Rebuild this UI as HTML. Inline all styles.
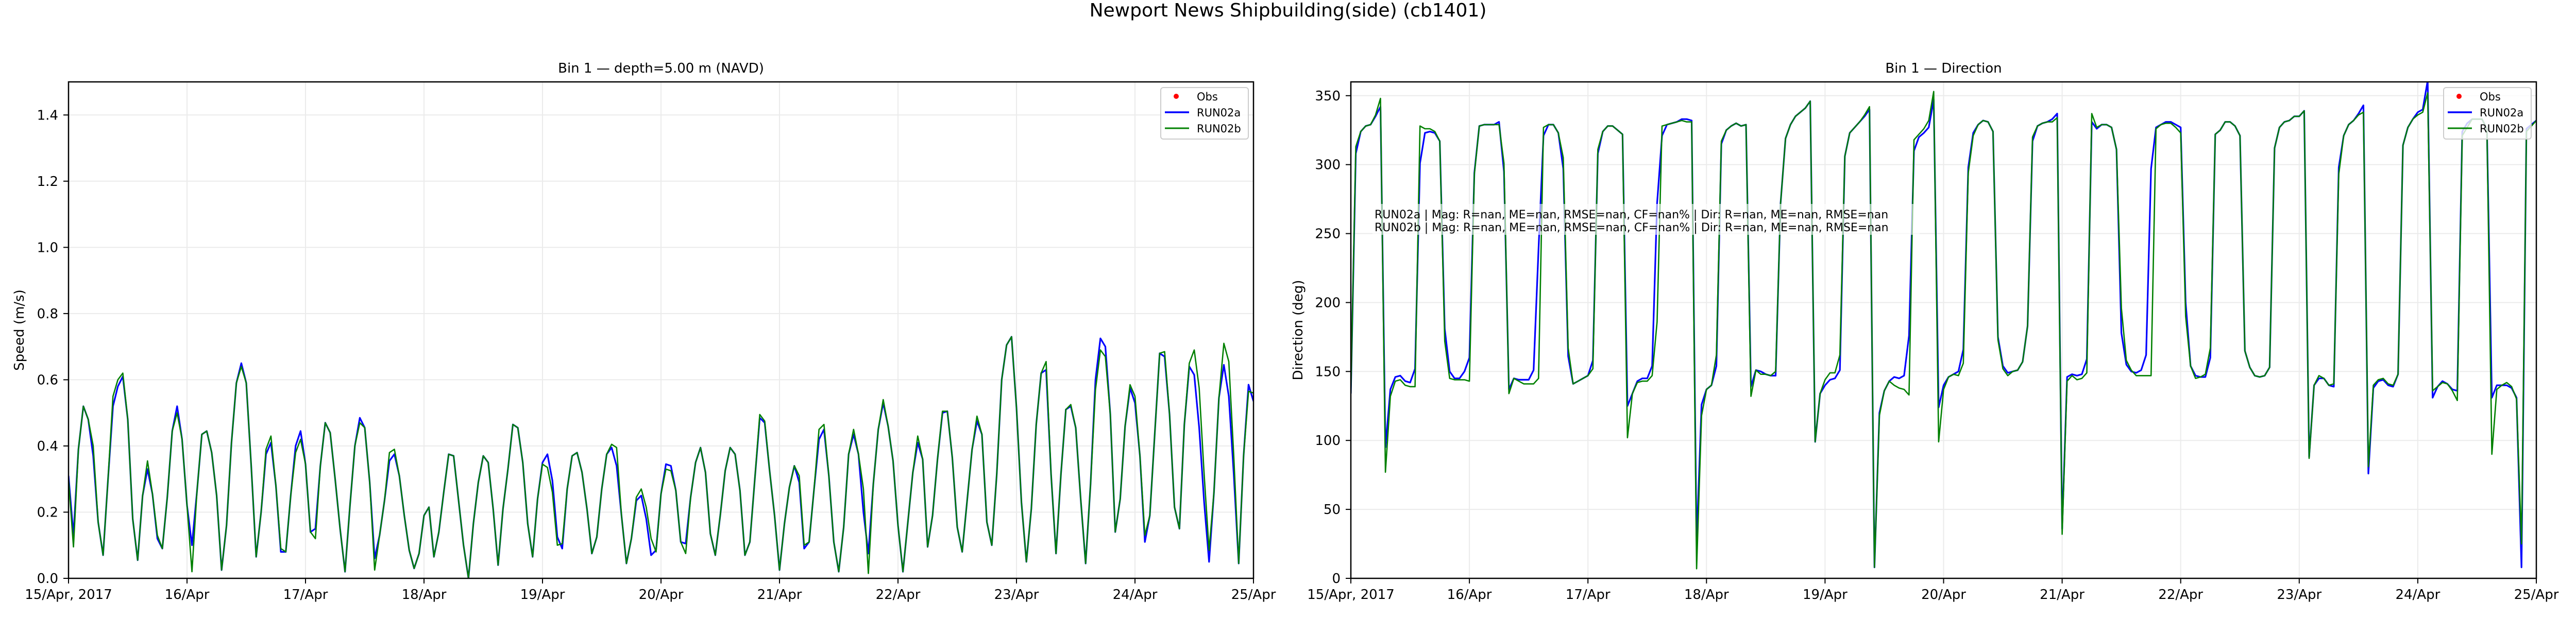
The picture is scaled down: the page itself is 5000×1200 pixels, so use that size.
<!DOCTYPE html>
<html><head><meta charset="utf-8"><style>
html,body{margin:0;padding:0;background:#fff;}
svg{display:block;font-family:"DejaVu Sans","Liberation Sans",sans-serif;}
</style></head><body>
<svg id="fig" width="5000" height="1200" viewBox="0 0 5000 1200" xmlns="http://www.w3.org/2000/svg">
<rect width="5000" height="1200" fill="#fff"/>
<text x="2500" y="32" font-size="36" text-anchor="middle">Newport News Shipbuilding(side) (cb1401)</text>
<g id="left"></g>
<g id="right"></g>
</svg>
<script>
const dayLabels = ["15/Apr, 2017","16/Apr","17/Apr","18/Apr","19/Apr","20/Apr","21/Apr","22/Apr","23/Apr","24/Apr","25/Apr"];
const speedTicks = [0.0,0.2,0.4,0.6,0.8,1.0,1.2,1.4];
const dirTicks = [0,50,100,150,200,250,300,350];
const speedA = [0.31,0.13,0.39,0.52,0.48,0.37,0.17,0.07,0.30,0.52,0.58,0.61,0.48,0.18,0.055,0.25,0.33,0.255,0.12,0.09,
0.245,0.445,0.52,0.42,0.22,0.10,0.26,0.435,0.445,0.38,0.25,0.025,0.16,0.41,0.59,0.65,0.59,0.34,0.065,0.20,
0.375,0.41,0.28,0.08,0.08,0.25,0.40,0.445,0.345,0.14,0.15,0.34,0.47,0.44,0.30,0.15,0.02,0.22,0.40,0.485,
0.455,0.29,0.06,0.13,0.235,0.355,0.375,0.31,0.19,0.085,0.03,0.075,0.19,0.215,0.065,0.14,0.26,0.375,0.37,0.235,
0.10,0.00,0.165,0.29,0.37,0.35,0.21,0.04,0.21,0.33,0.465,0.455,0.35,0.165,0.065,0.24,0.35,0.375,0.295,0.125,
0.09,0.27,0.37,0.38,0.32,0.21,0.075,0.125,0.27,0.375,0.395,0.34,0.19,0.045,0.12,0.235,0.25,0.18,0.07,0.085,
0.255,0.345,0.34,0.265,0.11,0.105,0.245,0.35,0.395,0.32,0.135,0.07,0.19,0.325,0.395,0.375,0.265,0.07,0.11,0.30,
0.485,0.47,0.325,0.19,0.025,0.165,0.275,0.34,0.29,0.09,0.11,0.27,0.42,0.45,0.31,0.11,0.02,0.155,0.375,0.435,
0.375,0.20,0.075,0.285,0.45,0.53,0.46,0.355,0.16,0.02,0.17,0.32,0.41,0.36,0.095,0.19,0.36,0.50,0.505,0.365,
0.155,0.08,0.235,0.39,0.475,0.435,0.17,0.10,0.315,0.60,0.705,0.73,0.515,0.23,0.05,0.21,0.465,0.62,0.63,0.315,
0.075,0.315,0.51,0.52,0.455,0.24,0.045,0.285,0.60,0.725,0.70,0.495,0.14,0.24,0.46,0.575,0.53,0.37,0.11,0.19,
0.435,0.68,0.67,0.495,0.215,0.15,0.465,0.64,0.615,0.455,0.23,0.05,0.26,0.545,0.645,0.55,0.315,0.045,0.37,0.585,0.535];
const speedB = [0.30,0.095,0.39,0.52,0.48,0.40,0.17,0.07,0.30,0.55,0.60,0.62,0.48,0.18,0.055,0.25,0.355,0.255,0.13,0.09,
0.245,0.445,0.50,0.42,0.22,0.02,0.26,0.435,0.445,0.38,0.25,0.025,0.16,0.41,0.59,0.64,0.59,0.34,0.065,0.20,
0.39,0.43,0.28,0.09,0.08,0.25,0.38,0.42,0.345,0.14,0.12,0.34,0.47,0.44,0.30,0.15,0.02,0.22,0.40,0.47,
0.455,0.29,0.025,0.13,0.235,0.38,0.39,0.31,0.19,0.085,0.03,0.075,0.19,0.215,0.065,0.14,0.26,0.375,0.37,0.235,
0.10,0.00,0.165,0.29,0.37,0.35,0.21,0.04,0.21,0.33,0.465,0.455,0.35,0.165,0.065,0.24,0.345,0.335,0.26,0.10,
0.105,0.27,0.37,0.38,0.32,0.21,0.075,0.125,0.27,0.375,0.405,0.395,0.19,0.045,0.12,0.245,0.27,0.215,0.12,0.08,
0.255,0.33,0.325,0.265,0.11,0.075,0.245,0.35,0.395,0.32,0.135,0.07,0.19,0.325,0.395,0.375,0.265,0.07,0.11,0.30,
0.495,0.475,0.325,0.19,0.025,0.165,0.275,0.34,0.31,0.10,0.11,0.27,0.45,0.465,0.31,0.11,0.02,0.155,0.375,0.45,
0.375,0.27,0.015,0.285,0.45,0.54,0.46,0.355,0.16,0.02,0.17,0.32,0.43,0.36,0.095,0.19,0.36,0.505,0.505,0.365,
0.155,0.08,0.235,0.39,0.49,0.435,0.17,0.10,0.315,0.60,0.705,0.73,0.515,0.23,0.05,0.21,0.465,0.62,0.655,0.315,
0.075,0.315,0.51,0.525,0.455,0.24,0.045,0.285,0.57,0.69,0.67,0.495,0.14,0.24,0.46,0.585,0.55,0.37,0.13,0.19,
0.435,0.68,0.685,0.495,0.215,0.15,0.465,0.65,0.69,0.575,0.315,0.085,0.26,0.545,0.71,0.655,0.37,0.045,0.37,0.565,0.56];
const dirA = [134,308,324,328,329,335,342,95,137,146,147,143,142,152,301,323,324,323,317,181,
150,145,145,150,160,294,328,329,329,329,331,295,137,145,144,144,144,151,239,321,
329,329,323,297,161,141,143,145,147,158,308,324,328,328,325,322,125,134,143,145,
145,154,272,321,329,330,331,333,333,332,25,126,137,140,154,315,325,328,330,328,
329,139,151,150,148,147,147,272,319,329,335,338,341,346,99,134,140,144,145,151,
306,323,327,331,335,340,8,120,136,143,146,145,147,176,310,320,323,327,347,124,
140,146,148,150,166,298,323,329,332,331,324,175,154,149,150,151,157,183,317,328,
330,331,333,337,36,146,148,147,148,159,331,326,329,329,327,311,178,155,150,149,
151,162,297,327,329,331,331,329,327,200,154,147,146,146,160,322,325,331,331,328,
321,165,153,147,146,147,153,312,327,331,332,335,335,339,88,140,145,145,140,139,
298,321,329,332,337,343,76,138,143,144,140,139,148,314,327,333,338,340,361,131,
139,143,141,137,136,324,330,333,333,333,326,131,140,140,140,138,131,8,326,329,332];
const dirB = [134,313,324,328,329,336,348,77,132,143,144,140,139,139,328,326,326,324,317,172,
145,144,144,144,143,293,328,329,329,329,329,301,134,145,143,141,141,141,145,327,
329,329,323,305,167,141,143,145,147,152,311,324,328,328,325,322,102,134,142,143,
143,147,186,328,329,330,331,332,331,331,7,118,137,140,162,317,325,328,330,328,
329,132,151,148,148,147,150,272,319,329,335,338,341,346,99,134,144,149,149,162,
306,323,327,331,336,342,8,118,136,143,140,138,137,133,318,322,326,332,353,99,
137,146,148,147,156,294,321,329,332,331,324,173,152,147,150,151,157,183,320,328,
330,331,331,334,32,143,147,144,145,149,337,327,329,329,327,311,196,158,151,147,
147,147,147,326,329,330,330,327,323,190,154,145,146,148,167,322,325,331,331,328,
321,165,153,147,146,147,153,312,327,331,332,335,335,339,87,140,147,145,140,141,
293,321,329,332,336,338,81,140,144,145,141,140,148,314,327,333,336,338,352,136,
139,142,141,136,129,321,327,333,333,333,326,90,137,140,142,139,130,25,324,328,332];

const NS = "http://www.w3.org/2000/svg";
function mk(parent, tag, attrs, text) {
  const e = document.createElementNS(NS, tag);
  for (const k in attrs) e.setAttribute(k, attrs[k]);
  if (text !== undefined) e.textContent = text;
  parent.appendChild(e);
  return e;
}
function panel(g, cfg) {
  const L = cfg.left, R = cfg.right, T = 159, B = 1123;
  const nH = 240;
  const xS = h => L + (R - L) * h / nH;
  const yS = v => B - (B - T) * (v - cfg.ymin) / (cfg.ymax - cfg.ymin);
  for (let d = 0; d < dayLabels.length; d++) {
    const x = xS(d * 24);
    const gl = mk(g, "line", {x1:x, x2:x, y1:T, y2:B, stroke:"#ebebeb", "stroke-width":2});
    
    
  }
  cfg.ticks.forEach(v => {
    const y = yS(v);
    const gl = mk(g, "line", {x1:L, x2:R, y1:y, y2:y, stroke:"#ebebeb", "stroke-width":2});
    
    
  });
  const cid = cfg.id + "-clip";
  const cp = mk(g, "clipPath", {id: cid});
  mk(cp, "rect", {x:L, y:T, width:R-L, height:B-T});
  function line(arr, color, w, name) {
    const pts = arr.map((v, i) => xS(i).toFixed(1) + "," + yS(v).toFixed(1)).join(" ");
    const p = mk(g, "polyline", {points: pts, fill:"none", stroke:color, "stroke-width":w, "stroke-linejoin":"round", "clip-path":"url(#"+cid+")"});
    
    
  }
  line(cfg.a, "#0000ff", 3.2, "run02a-line");
  line(cfg.b, "#008000", 2.6, "run02b-line");
  if (cfg.stats) {
    const sg = mk(g, "g", {});
    
    
    mk(sg, "rect", {x:2664, y:396, width:1062, height:60, fill:"#fff", "fill-opacity":0.6});
    mk(sg, "text", {x:2668, y:424, "font-size":22}, "RUN02a | Mag: R=nan, ME=nan, RMSE=nan, CF=nan% | Dir: R=nan, ME=nan, RMSE=nan");
    mk(sg, "text", {x:2668, y:449, "font-size":22}, "RUN02b | Mag: R=nan, ME=nan, RMSE=nan, CF=nan% | Dir: R=nan, ME=nan, RMSE=nan");
  }
  const fr = mk(g, "rect", {x:L, y:T, width:R-L, height:B-T, fill:"none", stroke:"#000", "stroke-width":2.5});
  
  
  dayLabels.forEach((lab, d) => {
    const x = xS(d * 24);
    mk(g, "line", {x1:x, x2:x, y1:B, y2:B+10, stroke:"#000", "stroke-width":2});
    const t = mk(g, "text", {x:x, y:1163, "font-size":26, "text-anchor":"middle"}, lab);
    
    
  });
  cfg.ticks.forEach(v => {
    const y = yS(v);
    mk(g, "line", {x1:L-10, x2:L, y1:y, y2:y, stroke:"#000", "stroke-width":2});
    const t = mk(g, "text", {x:L-20, y:y+9, "font-size":26, "text-anchor":"end"}, cfg.fmt(v));
    
    
  });
  const st = mk(g, "text", {x:(L+R)/2, y:141, "font-size":26, "text-anchor":"middle"}, cfg.title);
  
  
  const yl = mk(g, "text", {x:0, y:0, "font-size":26, "text-anchor":"middle", transform:"translate("+cfg.ylx+",641) rotate(-90)"}, cfg.ylabel);
  
  
  const lg = mk(g, "g", {});
  
  
  const lx = cfg.legX;
  mk(lg, "rect", {x:lx, y:170, width:170, height:100, rx:5, fill:"#fff", "fill-opacity":0.8, stroke:"#ccc", "stroke-width":2});
  mk(lg, "circle", {cx:lx+30, cy:187, r:5, fill:"#ff0000"});
  mk(lg, "text", {x:lx+70, y:195, "font-size":21}, "Obs");
  mk(lg, "line", {x1:lx+8, x2:lx+55, y1:218, y2:218, stroke:"#0000ff", "stroke-width":3.5});
  mk(lg, "text", {x:lx+70, y:226, "font-size":21}, "RUN02a");
  mk(lg, "line", {x1:lx+8, x2:lx+55, y1:249, y2:249, stroke:"#008000", "stroke-width":3});
  mk(lg, "text", {x:lx+70, y:257, "font-size":21}, "RUN02b");
}
panel(document.getElementById("left"), {id:"spd", left:133, right:2433, ymin:0, ymax:1.5, ticks:speedTicks,
  fmt:v=>v.toFixed(1), a:speedA, b:speedB, title:"Bin 1 — depth=5.00 m (NAVD)", ylabel:"Speed (m/s)", ylx:46, legX:2253});
panel(document.getElementById("right"), {id:"dir", left:2622, right:4923, ymin:0, ymax:360, ticks:dirTicks,
  fmt:v=>String(v), a:dirA, b:dirB, title:"Bin 1 — Direction", ylabel:"Direction (deg)", ylx:2528, legX:4743, stats:true});
</script>
</body></html>
